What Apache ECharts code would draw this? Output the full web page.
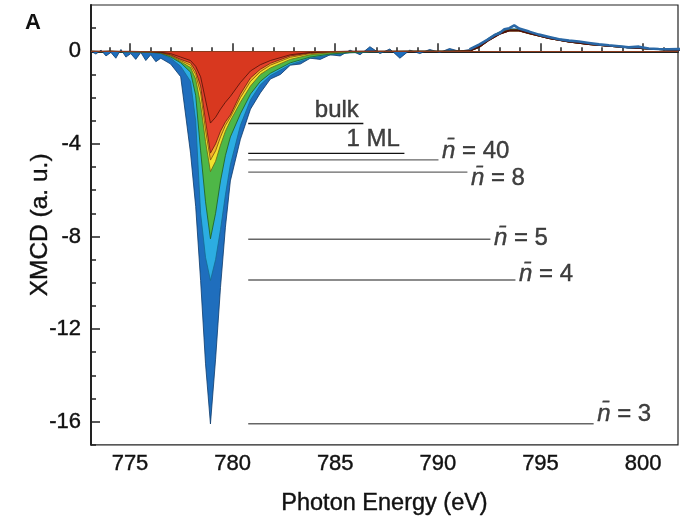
<!DOCTYPE html>
<html>
<head>
<meta charset="utf-8">
<script src="https://cdn.jsdelivr.net/npm/echarts@6/dist/echarts.min.js"></script>
<style>
  html, body { margin: 0; padding: 0; background: #fff; }
  #chart { width: 680px; height: 521px; }
</style>
</head>
<body>
<div id="chart"></div>
<script>
// photon energy grid (eV) for the smoother spectra
const energy = [773.1, 773.59, 774.07, 774.56, 775.04, 775.53, 776.01, 776.5, 776.98, 777.47,
  777.95, 778.2, 778.44, 778.68, 778.92, 779.17, 779.41, 779.65, 779.89,
  780.38, 780.87, 781.35, 781.84, 782.81, 783.78, 784.75, 785.72, 786.69, 787.66, 788.63,
  789.6, 790.57, 791.54, 792.03, 792.51, 793.0, 793.48, 793.96, 794.45,
  795.42, 796.39, 797.36, 798.33, 799.3, 800.27, 801.24, 802.22]

const bulk = [0, 0, 0, 0, 0, -0.01, -0.01, -0.04, -0.1, -0.25,
  -0.4, -0.65, -1.1, -2.1, -3.1, -2.85, -2.5, -2.2, -1.95,
  -1.35, -0.85, -0.58, -0.4, -0.15, -0.05, -0.01, 0, 0, 0, 0, 0, 0, 0.02,
  0.2, 0.5, 0.75, 0.9, 0.9, 0.78, 0.57, 0.41, 0.31, 0.23, 0.17, 0.11, 0.07, 0.05]

const ml1 = [0, 0, 0, -0.01, -0.01, -0.02, -0.02, -0.05, -0.15, -0.35,
  -0.5, -0.85, -1.5, -3.0, -4.4, -4.0, -3.45, -3.05, -2.75,
  -1.85, -1.15, -0.78, -0.52, -0.2, -0.07, -0.02, 0, 0, 0, 0, 0, 0, 0.02,
  0.2, 0.5, 0.75, 0.9, 0.9, 0.78, 0.57, 0.41, 0.31, 0.23, 0.17, 0.11, 0.07, 0.05]

const n40 = [0, -0.01, 0, -0.01, -0.01, -0.02, -0.03, -0.06, -0.18, -0.4,
  -0.6, -1.0, -1.8, -3.4, -4.7, -4.3, -3.7, -3.2, -2.85,
  -2.0, -1.3, -0.88, -0.6, -0.26, -0.1, -0.04, -0.01, 0, 0, 0, 0, 0, 0.02,
  0.2, 0.5, 0.76, 0.9, 0.89, 0.77, 0.56, 0.41, 0.31, 0.23, 0.17, 0.11, 0.07, 0.05]

const n8 = [0, -0.01, 0, -0.01, -0.02, -0.02, -0.03, -0.07, -0.2, -0.45,
  -0.7, -1.2, -2.3, -3.9, -5.2, -4.75, -4.05, -3.45, -3.0,
  -2.2, -1.5, -1.0, -0.72, -0.35, -0.15, -0.06, -0.02, -0.01, 0, 0, 0, 0, 0.02,
  0.2, 0.52, 0.78, 0.91, 0.9, 0.78, 0.57, 0.41, 0.31, 0.23, 0.17, 0.11, 0.07, 0.05]

const n5 = [0, -0.02, 0, -0.02, -0.02, -0.03, -0.04, -0.08, -0.25, -0.5,
  -0.9, -1.9, -4.3, -6.5, -8.1, -7.0, -5.6, -4.5, -3.7,
  -2.7, -1.85, -1.3, -0.95, -0.5, -0.25, -0.12, -0.05, -0.02, -0.01, 0, 0, 0, 0.02,
  0.2, 0.55, 0.8, 0.93, 0.92, 0.8, 0.58, 0.42, 0.32, 0.24, 0.17, 0.11, 0.07, 0.05]

const n4 = [0, -0.02, 0, -0.03, -0.02, -0.04, -0.05, -0.1, -0.3, -0.65,
  -1.3, -3.0, -7.0, -8.9, -9.9, -9.0, -7.7, -6.2, -4.9,
  -3.2, -2.1, -1.45, -1.05, -0.58, -0.3, -0.16, -0.07, -0.03, -0.02, 0, 0, 0, 0.02,
  0.22, 0.58, 0.82, 0.96, 0.95, 0.82, 0.6, 0.44, 0.33, 0.25, 0.18, 0.12, 0.08, 0.05]

// the noisy n=3 spectrum has its own, finer grid
const energyN3 = [773.1, 773.34, 773.59, 773.83, 774.07, 774.31, 774.56, 774.8, 775.04, 775.28,
  775.53, 775.77, 776.01, 776.26, 776.5, 776.98, 777.47, 777.95, 778.2, 778.44, 778.68, 778.92,
  779.17, 779.41, 779.65, 779.89, 780.38, 780.87, 781.35, 781.84, 782.33, 782.81, 783.3, 783.78, 784.27,
  784.75, 785.24, 785.72, 786.21, 786.69, 787.18, 787.66, 788.15, 788.63, 789.12, 789.6, 790.09, 790.57, 791.06,
  791.54, 792.03, 792.51, 792.76, 793.0, 793.24, 793.48, 793.72, 793.96, 794.45, 794.93, 795.42, 795.9,
  796.39, 796.87, 797.36, 797.85, 798.33, 798.82, 799.3, 799.79, 800.27, 800.76, 801.24, 801.73, 802.22]

const n3 = [0, -0.12, 0.05, -0.2, -0.05, -0.3, 0.08, -0.25, -0.1, -0.35,
  -0.05, -0.4, -0.15, -0.45, -0.3, -0.55, -1.1, -4.4, -6.7, -9.9, -13.5, -16.1,
  -13.3, -10.2, -7.6, -5.6, -3.8, -2.5, -1.8, -1.2, -1.0, -0.6, -0.55, -0.3, -0.35,
  -0.15, -0.2, 0.05, -0.15, 0.2, -0.1, 0.1, -0.3, 0.05, -0.1, 0.08, -0.05, 0.12, 0,
  0.08, 0.3, 0.55, 0.7, 0.78, 0.95, 1.0, 1.12, 0.98, 0.85, 0.72, 0.62, 0.52,
  0.46, 0.42, 0.36, 0.3, 0.26, 0.22, 0.17, 0.2, 0.12, 0.1, 0.09, 0.1, 0.07]

const xMajorTicks = [775, 780, 785, 790, 795, 800]
const xMinorTicks = [774, 776, 777, 778, 779, 781, 782, 783, 784, 786, 787, 788, 789,
  791, 792, 793, 794, 796, 797, 798, 799, 801]
const yMajorTicks = [0, -4, -8, -12, -16]
const yMinorTicks = [1, -1, -2, -3, -5, -6, -7, -9, -10, -11, -13, -14, -15, -17]

// peak-depth markers and their labels
const labelNames = ['bulk', '1 ML', 'n̄ = 40', 'n̄ = 8', 'n̄ = 5', 'n̄ = 4', 'n̄ = 3']
const labelLevels = [-3.12, -4.41, -4.69, -5.22, -8.12, -9.88, -16.09]
const labelEnds = [786.37, 788.37, 790.03, 791.44, 792.56, 793.78, 797.59]
const labelStart = 780.76

// vertical nudge of each label text (px)
const labelNudge = [0, 0, -8, 7, 0, -5, -9]

const FONT = 'Liberation Sans, Arial, Helvetica, sans-serif'
const INK = '#111'
// a hairline stroke gives the text the weight of the printed figure
const HEAVY = { textBorderColor: INK, textBorderWidth: 0.4 }
const FILL_END = 791.6   // L3 part is drawn filled up to here
const LINE_START = 791.5 // L2 part is drawn as lines from here

const spectra = [
  { x: energyN3, y: n3, fill: '#1f6ebd', edge: '#0c3a6b' },
  { x: energy, y: n4, fill: '#2cade2', edge: '#156b90' },
  { x: energy, y: n5, fill: '#4eb747', edge: '#1f5d1c' },
  { x: energy, y: n8, fill: '#f0e22d', edge: '#6c6412' },
  { x: energy, y: n40, fill: '#f4ae2a', edge: '#7a4a0b' },
  { x: energy, y: ml1, fill: '#e3422b', edge: '#6b1b10' },
  { x: energy, y: bulk, fill: '#d8381f', edge: '#4c1008' }
]

const pairs = (xs, ys, lo, hi) =>
  xs.map((x, i) => [x, ys[i]]).filter(p => p[0] >= lo && p[0] <= hi)

const series = []

// L3 edge: filled areas down to zero
spectra.forEach((s) => {
  series.push({
    type: 'line',
    data: pairs(s.x, s.y, 0, FILL_END),
    symbol: 'none',
    silent: true,
    lineStyle: { color: s.edge, width: 0.8 },
    areaStyle: { color: s.fill, opacity: 1, origin: 0 }
  })
})

// L2 edge: lines only
spectra.slice(1).forEach((s) => {
  series.push({
    type: 'line',
    data: pairs(s.x, s.y, LINE_START, 810),
    symbol: 'none',
    silent: true,
    lineStyle: { color: s.edge, width: 1.6 }
  })
})
series.push({
  type: 'line',
  data: pairs(energyN3, n3, LINE_START, 810),
  symbol: 'none',
  silent: true,
  lineStyle: { color: '#2a68a6', width: 2.6 },
  markLine: {
    silent: true,
    symbol: 'none',
    label: { show: false },
    lineStyle: { color: '#8a3a1c', width: 1, type: 'solid' },
    data: [{ yAxis: 0 }]
  }
})

// marker lines
labelNames.forEach((name, i) => {
  series.push({
    type: 'line',
    data: [[labelStart, labelLevels[i]], [labelEnds[i], labelLevels[i]]],
    symbol: 'none',
    silent: true,
    z: 5,
    lineStyle: { color: i < 2 ? '#111' : '#666', width: 1.4 }
  })
})

// marker texts
series.push({
  type: 'scatter',
  symbolSize: 1,
  itemStyle: { color: 'rgba(0,0,0,0)' },
  silent: true,
  z: 6,
  data: labelNames.map((name, i) => ({
    value: [labelEnds[i], labelLevels[i]],
    name: name,
    label: i < 2
      ? { position: [-4, -1], align: 'right', verticalAlign: 'bottom' }
      : { position: [4, labelNudge[i]], align: 'left', verticalAlign: 'middle' }
  })),
  label: Object.assign({
    show: true,
    fontFamily: FONT,
    fontSize: 24,
    color: INK,
    formatter: (p) => p.name.startsWith('n̄')
      ? '{i|n̄}' + p.name.slice(2)
      : p.name,
    rich: {
      i: Object.assign({ fontStyle: 'italic', fontFamily: FONT, fontSize: 24, color: INK }, HEAVY)
    }
  }, HEAVY)
})

const chart = echarts.init(document.getElementById('chart'), null, { renderer: 'canvas' })

chart.setOption({
  animation: false,
  backgroundColor: '#fff',
  grid: {
    left: 91, right: 2, top: 5, bottom: 71,
    show: true, borderColor: '#222', borderWidth: 1.2
  },
  graphic: [{
    type: 'text', left: 25, top: 12,
    style: { text: 'A', font: 'bold 22px ' + FONT, fill: '#111' }
  }],
  xAxis: [
    {
      type: 'value', min: 773.1, max: 801.7, position: 'bottom',
      name: 'Photon Energy (eV)', nameLocation: 'middle', nameGap: 47,
      nameTextStyle: Object.assign({ fontFamily: FONT, fontSize: 23.5, color: INK }, HEAVY),
      axisLine: { show: true, lineStyle: { color: '#222', width: 2 } },
      axisTick: { inside: true, length: 4, customValues: xMinorTicks, lineStyle: { color: '#222', width: 1.5 } },
      axisLabel: { show: false },
      splitLine: { show: false }
    },
    {
      type: 'value', min: 773.1, max: 801.7, position: 'bottom',
      axisLine: { show: false },
      axisTick: { inside: true, length: 8, customValues: xMajorTicks, lineStyle: { color: '#222', width: 1.5 } },
      axisLabel: Object.assign({ customValues: xMajorTicks, fontFamily: FONT, fontSize: 22, color: INK, margin: 8 }, HEAVY),
      splitLine: { show: false }
    }
  ],
  yAxis: [
    {
      type: 'value', min: -17, max: 2, position: 'left',
      name: 'XMCD (a. u.)', nameLocation: 'middle', nameGap: 38,
      nameTextStyle: Object.assign({ fontFamily: FONT, fontSize: 24.5, color: INK }, HEAVY),
      axisLine: { show: true, lineStyle: { color: '#222', width: 2 } },
      axisTick: { inside: true, length: 5, customValues: yMinorTicks, lineStyle: { color: '#222', width: 1.5 } },
      axisLabel: { show: false },
      splitLine: { show: false }
    },
    {
      type: 'value', min: -17, max: 2, position: 'left',
      axisLine: { show: false },
      axisTick: { inside: true, length: 9, customValues: yMajorTicks, lineStyle: { color: '#222', width: 1.5 } },
      axisLabel: Object.assign({ customValues: yMajorTicks, fontFamily: FONT, fontSize: 22, color: INK, margin: 10 }, HEAVY),
      splitLine: { show: false }
    }
  ],
  series: series
})
</script>
</body>
</html>
